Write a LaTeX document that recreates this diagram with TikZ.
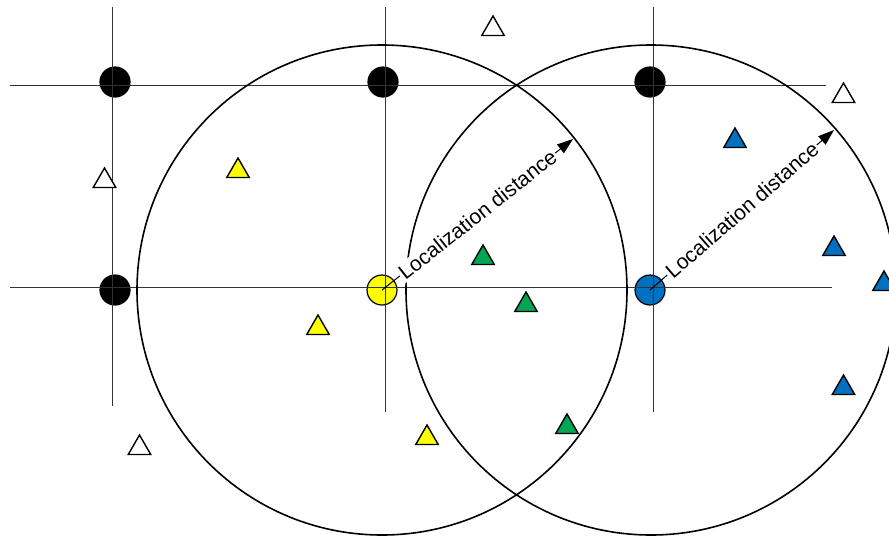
\documentclass[tikz,border=0pt]{standalone}
\usepackage{fontspec}
\setmainfont{Liberation Sans}
\usetikzlibrary{arrows.meta,shapes.geometric}
\definecolor{TagYel}{HTML}{FFFF00}
\definecolor{TagGrn}{HTML}{00A651}
\definecolor{TagBlu}{HTML}{0070C0}
\tikzset{
  grd/.style={line width=1pt, draw=black!80},
  rng/.style={line width=1.6pt, draw=black},
  anc/.style={circle, draw=black, line width=1.2pt, minimum size=30pt, inner sep=0pt, fill=#1},
  tri/.style={regular polygon, regular polygon sides=3, draw=black, line width=1.4pt,
              minimum size=26pt, inner sep=0pt, fill=#1},
  dist/.style={-{Triangle[length=16pt,width=11pt]}, line width=1pt},
  lbl/.style={sloped, midway, fill=white, inner sep=1.5pt, font=\fontsize{21}{25}\selectfont},
}

\begin{document}
\begin{tikzpicture}[x=1pt,y=-1pt]
\useasboundingbox (0,0) rectangle (889,536);
\clip (0,0) rectangle (889,536);

% anchors: black grid points, the two reference nodes
\node[anc=black] (g1) at (115,82) {};
\node[anc=black] (g2) at (383,82) {};
\node[anc=black] (g3) at (650,82) {};
\node[anc=black] (g4) at (115,290) {};
\node[anc=TagYel] (aY) at (382,290) {};
\node[anc=TagBlu] (aB) at (650,290) {};

% grid lines
\draw[grd] (10,85) -- (826,85);
\draw[grd] (10,287) -- (832,287);
\draw[grd] (112,7) -- (112,406);
\draw[grd] (385,7) -- (385,412);
\draw[grd] (653,7) -- (653,412);

% localization ranges
\draw[rng] (aY.center) circle[radius=245];
\draw[rng] (651,290) circle[radius=245];

% localization distance arrows
\coordinate (tY) at (573,139);
\coordinate (tB) at (834,130);
\draw[dist] (aY.center) -- (tY) node[lbl] {Localization distance};
\draw[dist] (aB.center) -- (tB) node[lbl] {Localization distance};

% tags
\foreach \x/\y [count=\i] in {493/29, 843.5/96, 104.5/181, 139.5/448}
  \node[tri=white] (w\i) at (\x,\y) {};
\foreach \x/\y [count=\i] in {238/171, 318/328, 427/438}
  \node[tri=TagYel] (y\i) at (\x,\y) {};
\foreach \x/\y [count=\i] in {483/258, 526/305, 567/427}
  \node[tri=TagGrn] (n\i) at (\x,\y) {};
\foreach \x/\y [count=\i] in {735/141, 834/249, 884/284, 843.5/388}
  \node[tri=TagBlu] (b\i) at (\x,\y) {};

\end{tikzpicture}
\end{document}
